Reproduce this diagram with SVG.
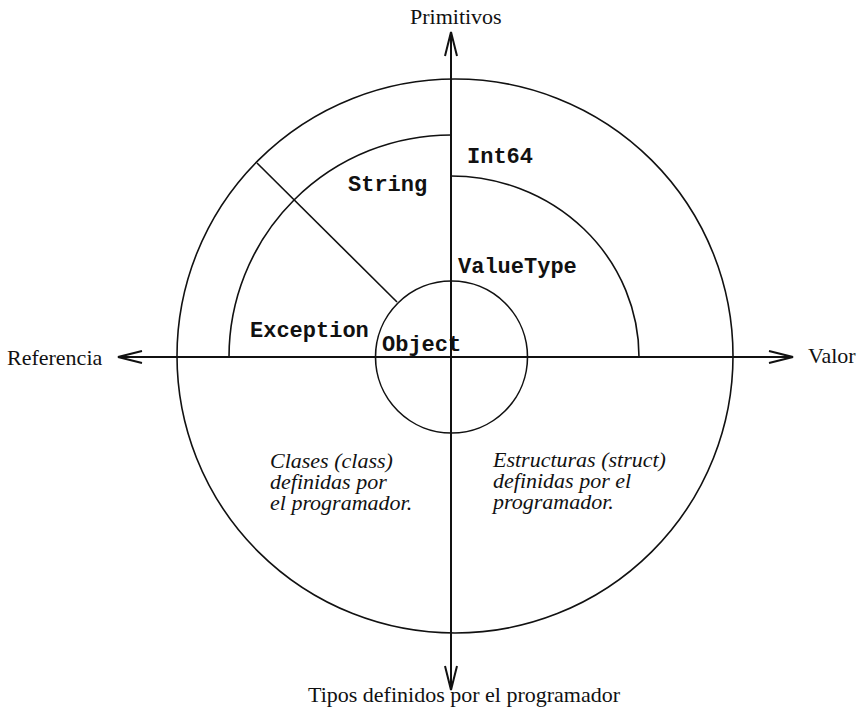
<svg xmlns="http://www.w3.org/2000/svg" width="861" height="710" viewBox="0 0 861 710">
  <style>
    .ln { fill: none; stroke: #111; stroke-width: 1.6; }
    .ax { fill: none; stroke: #111; stroke-width: 2; }
    .mono { font-family: "Liberation Mono", "Courier New", monospace; font-weight: bold; font-size: 22px; fill: #111; }
    .serif { font-family: "Liberation Serif", "Times New Roman", serif; font-size: 22px; fill: #111; }
    .it { font-family: "Liberation Serif", "Times New Roman", serif; font-style: italic; font-size: 22px; fill: #111; }
  </style>
  <defs>
    <marker id="arr" markerUnits="userSpaceOnUse" markerWidth="30" markerHeight="16" refX="25" refY="7" orient="auto-start-reverse" viewBox="0 0 30 16">
      <path d="M1,1 L25,7 L1,13" fill="none" stroke="#111" stroke-width="2"/>
    </marker>
  </defs>
  <rect width="861" height="710" fill="#fff"/>

  <g id="outer-ring">
    <ellipse class="ln" cx="455" cy="356" rx="278" ry="277"/>
  </g>
  <g id="string-region">
    <path class="ln" d="M229,357 A222,222 0 0 1 451,135"/>
    <line class="ln" x1="257" y1="163" x2="397" y2="302"/>
    <text class="mono" x="348" y="191">String</text>
  </g>
  <g id="valuetype-region">
    <path class="ln" d="M451,176 A188,181 0 0 1 639,357"/>
    <text class="mono" x="458" y="273">ValueType</text>
  </g>
  <g id="int64">
    <text class="mono" x="467" y="163">Int64</text>
  </g>
  <g id="exception">
    <text class="mono" x="250" y="337">Exception</text>
  </g>
  <g id="object">
    <circle class="ln" cx="451.5" cy="357" r="76"/>
    <text class="mono" x="382" y="351">Object</text>
  </g>
  <g id="classes">
    <text class="it" x="270" y="468">Clases (class)</text>
    <text class="it" x="270" y="489">definidas por</text>
    <text class="it" x="270" y="510">el programador.</text>
  </g>
  <g id="structs">
    <text class="it" x="493" y="467">Estructuras (struct)</text>
    <text class="it" x="493" y="488">definidas por el</text>
    <text class="it" x="493" y="509">programador.</text>
  </g>

  <g id="connectors">
    <line class="ax" x1="451" y1="690" x2="451" y2="32" marker-start="url(#arr)" marker-end="url(#arr)"/>
    <line class="ax" x1="118" y1="357" x2="793" y2="357" marker-start="url(#arr)" marker-end="url(#arr)"/>
  </g>

  <g id="axis-labels">
    <text class="serif" x="410" y="24">Primitivos</text>
    <text class="serif" x="7" y="365">Referencia</text>
    <text class="serif" x="808" y="363">Valor</text>
    <text class="serif" x="308" y="702">Tipos definidos por el programador</text>
  </g>
</svg>
